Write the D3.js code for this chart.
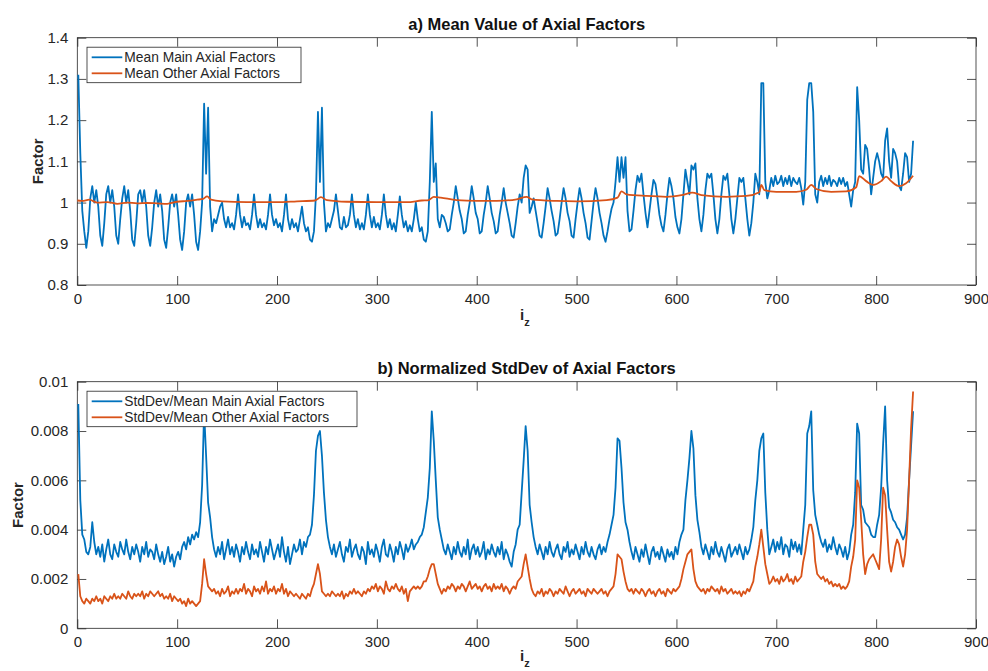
<!DOCTYPE html>
<html>
<head>
<meta charset="utf-8">
<script src="https://cdn.jsdelivr.net/npm/d3@7/dist/d3.min.js"></script>
<style>
  body { margin: 0; background: #fff; }
  svg { font-family: "Liberation Sans", Arial, Helvetica, sans-serif; }
</style>
</head>
<body>
<div id="chart"></div>
<script>
// Axial factor statistics.
// Noisy series are sampled every 2nd slice: i_z = 1, 3, 5, ...
const izStart = 1;
const izStep = 2;

// a) mean of the main axial factors
const meanMain = [
  1.31,1.12,0.98,0.93,0.89,0.93,1.01,1.04,1.00,1.03,
  0.99,0.92,0.895,0.95,1.02,1.04,1.00,1.03,0.99,0.92,
  0.90,0.96,1.01,1.04,1.00,1.03,0.98,0.91,0.895,0.95,
  1.02,1.03,1.00,1.03,0.99,0.92,0.895,0.94,1.00,1.03,
  0.99,1.02,0.98,0.91,0.89,0.94,1.00,1.02,0.99,1.02,
  0.97,0.91,0.885,0.93,1.00,1.02,0.99,1.02,0.97,0.905,
  0.885,0.93,1.00,1.24,1.07,1.23,0.99,0.93,0.96,0.95,
  0.97,0.99,1.00,0.96,0.94,0.965,0.94,0.95,0.935,0.97,
  1.02,0.97,0.94,0.965,0.945,0.95,0.935,0.97,1.02,0.97,
  0.94,0.96,0.94,0.95,0.935,0.97,1.02,0.97,0.945,0.96,
  0.94,0.95,0.93,0.97,1.02,0.96,0.935,0.96,0.94,0.95,
  0.93,0.96,0.99,0.95,0.93,0.94,0.91,0.905,0.93,1.02,
  1.22,1.05,1.23,1.00,0.93,0.95,0.94,0.96,0.98,1.02,
  0.98,0.94,0.935,0.965,0.94,0.945,0.97,1.02,0.97,0.94,
  0.96,0.935,0.95,0.935,0.97,1.02,0.97,0.94,0.965,0.94,
  0.95,0.935,0.97,1.02,0.97,0.94,0.96,0.935,0.95,0.93,
  0.97,1.015,0.97,0.94,0.955,0.93,0.945,0.93,0.96,1.00,
  0.96,0.93,0.94,0.91,0.905,0.93,1.05,1.22,1.05,1.095,
  0.96,0.94,0.97,0.965,0.95,0.93,0.935,0.97,1.00,1.04,
  1.01,0.98,0.96,0.925,0.93,0.97,1.00,1.04,1.01,0.975,
  0.96,0.925,0.93,0.97,1.00,1.04,1.01,0.975,0.955,0.925,
  0.93,0.97,1.00,1.035,1.00,0.975,0.95,0.92,0.915,0.95,
  0.99,1.02,1.00,1.06,1.09,1.08,0.975,0.99,1.01,0.98,
  0.95,0.92,0.915,0.95,0.99,1.035,1.01,0.98,0.955,0.92,
  0.925,0.96,1.00,1.035,1.01,0.975,0.955,0.92,0.915,0.96,
  1.00,1.035,1.01,0.975,0.95,0.915,0.91,0.955,1.00,1.035,
  1.01,0.975,0.95,0.92,0.905,0.93,0.96,0.985,1.00,1.05,
  1.11,1.05,1.11,1.06,1.11,0.98,0.93,0.935,0.98,1.03,
  1.065,1.05,1.07,1.02,0.975,0.94,0.98,1.02,1.055,1.045,
  1.01,0.97,0.945,0.93,0.97,1.02,1.06,1.04,1.01,0.965,
  0.94,0.925,0.96,1.02,1.08,1.05,1.02,1.09,1.08,1.095,
  1.01,0.96,0.93,0.97,1.03,1.07,1.06,1.07,1.02,0.96,
  0.925,0.96,1.02,1.065,1.055,1.07,1.02,0.96,0.925,0.96,
  1.01,1.06,1.05,1.06,1.01,0.96,0.92,0.95,1.00,1.07,
  1.05,1.02,1.29,1.29,1.05,1.01,1.03,1.06,1.04,1.065,
  1.045,1.05,1.065,1.04,1.06,1.045,1.065,1.04,1.06,1.05,
  1.045,1.06,1.035,0.995,1.05,1.25,1.29,1.29,1.22,1.02,
  1.00,1.05,1.065,1.04,1.06,1.045,1.065,1.04,1.055,1.05,
  1.04,1.06,1.045,1.06,1.04,1.05,1.02,0.99,1.03,1.05,
  1.28,1.20,1.08,1.07,1.14,1.13,1.08,1.02,1.06,1.10,
  1.12,1.10,1.07,1.06,1.15,1.18,1.10,1.06,1.13,1.12,
  1.10,1.04,1.03,1.07,1.12,1.11,1.05,1.07,1.15
];

// a) mean of the other axial factors (smooth, read at these i_z)
const otherIz = [0,5,12,20,30,40,50,60,70,80,90,100,110,120,126,130,134,145,170,200,
  220,238,244,250,270,300,330,345,352,357,364,380,400,420,440,450,455,480,500,530,
  541,545,550,570,590,605,616,625,650,670,683,685,688,700,720,730,735,740,755,770,
  780,783,790,797,805,810,815,823,830,837];
const meanOther = [1.005,1.004,1.007,1.0,1.001,0.997,1.0,0.998,0.999,0.998,0.997,1.002,1.004,1.007,1.009,1.015,1.007,1.003,1.001,1.001,
  1.003,1.005,1.013,1.006,1.002,1.001,1.001,1.005,1.006,1.014,1.012,1.006,1.004,1.004,1.008,1.014,1.008,1.004,1.003,1.006,
  1.012,1.027,1.02,1.016,1.014,1.018,1.024,1.018,1.014,1.016,1.025,1.043,1.03,1.026,1.026,1.031,1.043,1.033,1.026,1.027,
  1.037,1.064,1.052,1.043,1.052,1.063,1.052,1.04,1.047,1.065];

// b) StdDev/Mean, in units of 1e-4
const stdUnit = 1e-4;
const stdMain = [
  91,52,38,36,31,30,33,43,35,30,
  33,29,34,27,32,36,30,28,34,31,
  29,35,32,30,36,31,28,33,30,34,
  31,27,33,30,35,29,32,31,28,34,
  30,27,31,26,29,33,27,30,25,29,
  31,28,33,35,32,37,34,38,36,39,
  37,43,58,88,70,51,45,37,32,29,
  33,30,35,28,32,36,30,33,29,34,
  31,27,33,30,35,31,28,34,30,32,
  29,35,31,27,33,30,36,32,28,31,
  34,29,37,31,27,33,26,30,34,31,
  32,36,30,35,33,37,38,42,54,72,
  78,80,70,55,44,37,33,30,34,29,
  32,35,30,27,33,31,36,29,32,34,
  30,28,33,31,26,35,30,32,29,34,
  31,27,33,36,30,29,34,31,27,33,
  30,35,32,28,34,31,33,36,32,34,
  35,37,38,41,47,53,65,88,76,60,
  45,40,36,32,30,34,31,28,33,30,
  35,31,29,33,30,36,28,32,34,30,
  33,29,31,35,28,32,30,34,31,29,
  33,30,35,28,32,30,27,25,31,34,
  40,42,55,68,82,72,50,43,37,33,
  30,34,31,28,33,30,35,31,29,32,
  34,30,28,33,31,35,29,32,30,34,
  31,28,33,30,35,31,29,33,30,28,
  32,34,30,33,31,35,38,42,46,57,
  77,76,65,51,43,40,35,31,28,33,
  30,27,32,29,34,30,26,31,33,29,
  31,28,33,30,27,32,29,31,28,33,
  30,35,38,40,52,60,69,80,73,54,
  44,39,33,30,34,31,28,33,30,35,
  31,29,33,30,27,32,34,29,31,33,
  30,34,31,28,33,30,32,36,41,52,
  60,72,77,79,55,40,30,33,36,31,
  35,32,37,30,34,33,29,36,32,35,
  31,34,30,40,50,79,82,88,56,46,
  42,38,35,33,36,31,34,32,37,33,
  30,34,32,29,33,28,31,38,42,55,
  83,79,50,48,43,42,41,38,37,37,
  42,46,57,75,90,60,49,47,44,43,
  41,40,38,36,38,45,60,74,88
];
const stdOther = [
  22,13,11,10,12,11,10,12,11,13,
  11,12,10,13,12,11,13,12,14,12,
  13,12,14,13,12,15,13,12,14,13,
  14,13,15,12,14,13,15,14,13,14,
  15,13,14,12,13,12,14,11,13,12,
  11,12,10,11,9,12,10,11,10,9,
  10,11,18,28,22,17,16,15,16,14,
  15,13,16,14,15,17,13,15,14,16,
  14,16,15,18,14,16,15,13,17,15,
  16,14,17,15,19,14,16,15,17,14,
  16,15,18,14,16,13,15,14,13,14,
  13,12,14,13,12,14,13,16,18,22,
  26,22,15,14,13,14,13,15,14,13,
  14,13,15,12,14,13,15,14,16,14,
  15,14,13,15,14,16,15,17,16,18,
  15,17,16,14,19,16,15,17,16,18,
  16,15,17,14,16,11,15,16,17,16,
  17,16,17,19,19,21,24,26,26,22,
  18,16,14,16,15,17,16,18,17,15,
  17,16,18,17,15,17,19,16,17,18,
  16,17,15,17,18,16,17,15,18,16,
  17,16,18,15,17,16,14,16,17,16,
  19,20,21,26,30,25,20,16,14,13,
  15,14,16,13,15,14,16,15,13,15,
  14,16,15,14,17,15,13,15,16,14,
  15,16,14,15,13,16,15,14,16,15,
  14,15,16,14,15,13,15,16,17,22,
  30,29,28,23,19,16,15,16,14,16,
  15,14,16,15,13,15,16,14,15,13,
  15,16,14,15,13,16,15,14,16,15,
  16,17,20,24,27,30,31,32,24,19,
  17,16,15,16,14,16,15,17,16,15,
  16,14,17,15,16,14,15,16,14,15,
  14,15,13,15,14,16,15,17,19,25,
  29,34,40,33,26,22,18,19,21,19,
  20,18,21,19,20,22,19,20,18,21,
  19,20,21,27,31,37,42,42,38,27,
  22,21,20,21,19,20,18,19,17,18,
  17,18,16,17,16,17,19,25,29,36,
  60,57,44,30,22,26,28,29,30,28,
  26,24,36,57,54,40,27,23,27,33,
  36,34,29,25,30,40,60,81,96
];

const xTicks = [0, 100, 200, 300, 400, 500, 600, 700, 800, 900];
const yTicksA = [0.8, 0.9, 1.0, 1.1, 1.2, 1.3, 1.4];
const yTicksB = [0, 0.002, 0.004, 0.006, 0.008, 0.01];

const blue = "#0072BD";
const orange = "#D95319";
const ink = "#262626";

const width = 988;
const height = 671;
const plotLeft = 77.3;
const plotRight = 976;

const svg = d3.select("#chart")
  .append("svg")
  .attr("width", width)
  .attr("height", height);

const x = d3.scaleLinear().domain([0, 900]).range([plotLeft, plotRight]);

// build point tables
const sampled = (vals, k) => vals.map((v, i) => ({iz: izStart + i * izStep, v: v * k}));
const mainMeanPts = sampled(meanMain, 1);
const otherMeanPts = otherIz.map((iz, i) => ({iz: iz, v: meanOther[i]}));
const mainStdPts = sampled(stdMain, stdUnit);
const otherStdPts = sampled(stdOther, stdUnit);

function drawPanel(p) {
  const g = svg.append("g");
  const y = d3.scaleLinear().domain(p.domain).range([p.bottom, p.top]);

  // axes with inward ticks on all four sides
  const axB = g.append("g")
    .attr("transform", `translate(0,${p.bottom})`)
    .call(d3.axisBottom(x).tickValues(xTicks).tickSizeInner(-9).tickSizeOuter(0).tickPadding(8));
  const axT = g.append("g")
    .attr("transform", `translate(0,${p.top})`)
    .call(d3.axisTop(x).tickValues(xTicks).tickSizeInner(-9).tickSizeOuter(0).tickFormat(""));
  const axL = g.append("g")
    .attr("transform", `translate(${plotLeft},0)`)
    .call(d3.axisLeft(y).tickValues(p.ticks).tickSizeInner(-9).tickSizeOuter(0).tickPadding(9)
      .tickFormat(d => d3.format("~g")(d)));
  const axR = g.append("g")
    .attr("transform", `translate(${plotRight},0)`)
    .call(d3.axisRight(y).tickValues(p.ticks).tickSizeInner(-9).tickSizeOuter(0).tickFormat(""));

  [axB, axT, axL, axR].forEach(a => {
    a.select(".domain").remove();
    a.selectAll(".tick line").attr("stroke", ink).attr("stroke-width", 0.8);
    a.selectAll(".tick text").attr("fill", ink).attr("font-size", "15px").attr("font-family", null);
  });

  g.append("rect")
    .attr("x", plotLeft).attr("y", p.top)
    .attr("width", plotRight - plotLeft).attr("height", p.bottom - p.top)
    .attr("fill", "none").attr("stroke", ink).attr("stroke-width", 0.8);

  const line = d3.line().x(d => x(d.iz)).y(d => y(d.v));
  p.series.forEach(s => {
    g.append("path")
      .datum(s.pts)
      .attr("fill", "none")
      .attr("stroke", s.color)
      .attr("stroke-width", 1.8)
      .attr("stroke-linejoin", "round")
      .attr("d", s.curve ? line.curve(s.curve)(s.pts) : line.curve(d3.curveLinear)(s.pts));
  });

  // title
  g.append("text")
    .attr("x", (plotLeft + plotRight) / 2)
    .attr("y", p.top - 7.5)
    .attr("text-anchor", "middle")
    .attr("font-size", "16.5px")
    .attr("font-weight", "bold")
    .attr("fill", "#111")
    .text(p.title);

  // y label
  g.append("text")
    .attr("transform", `translate(${p.ylabelX},${(p.top + p.bottom) / 2}) rotate(-90)`)
    .attr("text-anchor", "middle")
    .attr("font-size", "15px")
    .attr("font-weight", "bold")
    .attr("fill", ink)
    .text("Factor");

  // x label i_z
  const xl = g.append("text")
    .attr("x", 520)
    .attr("y", p.bottom + p.xlabelDy)
    .attr("font-weight", "bold")
    .attr("fill", ink);
  xl.append("tspan").attr("font-size", "15px").text("i");
  xl.append("tspan").attr("font-size", "11px").attr("dy", 6).text("z");

  // legend
  const lg = g.append("g");
  lg.append("rect")
    .attr("x", 87).attr("y", p.top + 9.5)
    .attr("width", p.legendW).attr("height", 35.5)
    .attr("fill", "#fff").attr("stroke", ink).attr("stroke-width", 0.8);
  p.series.forEach((s, i) => {
    const ly = p.top + 19.6 + i * 16;
    lg.append("line")
      .attr("x1", 91.7).attr("x2", 122.3)
      .attr("y1", ly).attr("y2", ly)
      .attr("stroke", s.color).attr("stroke-width", 1.8);
    lg.append("text")
      .attr("x", 124.3).attr("y", ly)
      .attr("dy", "0.36em")
      .attr("font-size", "13.8px")
      .attr("fill", ink)
      .text(s.name);
  });
}

drawPanel({
  top: 37.7, bottom: 285, domain: [0.8, 1.4], ticks: yTicksA,
  title: "a) Mean Value of Axial Factors", ylabelX: 43, legendW: 214, xlabelDy: 35,
  series: [
    {name: "Mean Main Axial Factors", color: blue, pts: mainMeanPts},
    {name: "Mean Other Axial Factors", color: orange, pts: otherMeanPts, curve: d3.curveMonotoneX}
  ]
});

drawPanel({
  top: 381.7, bottom: 628.3, domain: [0, 0.01], ticks: yTicksB,
  title: "b) Normalized StdDev of Axial Factors", ylabelX: 23, legendW: 270, xlabelDy: 33,
  series: [
    {name: "StdDev/Mean Main Axial Factors", color: blue, pts: mainStdPts},
    {name: "StdDev/Mean Other Axial Factors", color: orange, pts: otherStdPts}
  ]
});
</script>
</body>
</html>
